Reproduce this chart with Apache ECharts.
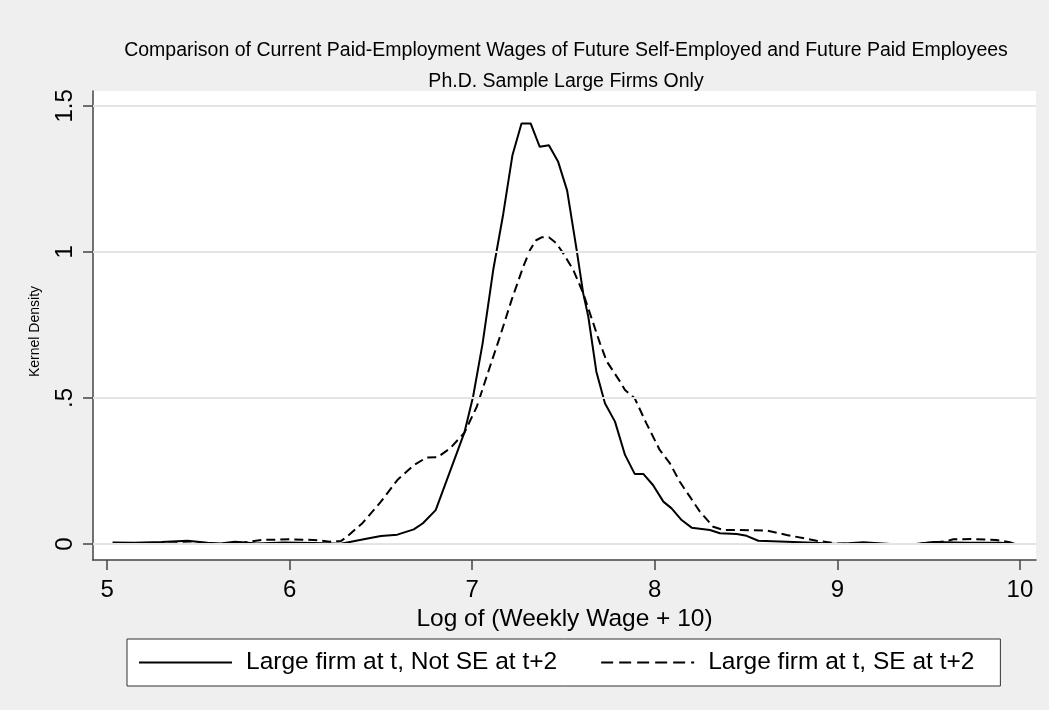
<!DOCTYPE html>
<html>
<head>
<meta charset="utf-8">
<script src="https://cdn.jsdelivr.net/npm/echarts@6/dist/echarts.min.js"></script>
<style>
html,body{margin:0;padding:0;background:#efefef;}
#chart{width:1049px;height:710px;}
</style>
</head>
<body>
<div id="chart"></div>
<script>
// ---- data ----
var titleLines = ['Comparison of Current Paid-Employment Wages of Future Self-Employed and Future Paid Employees', 'Ph.D. Sample Large Firms Only'];
var seriesNames = ['Large firm at t, Not SE at t+2', 'Large firm at t, SE at t+2'];
var xAxisTitle = 'Log of (Weekly Wage + 10)';
var yAxisTitle = 'Kernel Density';
var xTickValues = [5, 6, 7, 8, 9, 10];
var xTickLabels = ['5', '6', '7', '8', '9', '10'];
var yTickValues = [0, 0.5, 1, 1.5];
var yTickLabels = ['0', '.5', '1', '1.5'];

var notSeX = [5.03,5.15,5.30,5.44,5.55,5.62,5.70,5.82,5.97,6.13,6.28,6.42,6.50,6.59,6.68,6.73,6.80,6.957,7.005,7.057,7.115,7.17,7.22,7.27,7.32,7.37,7.42,7.47,7.52,7.572,7.608,7.636,7.68,7.727,7.782,7.837,7.89,7.937,7.99,8.047,8.092,8.147,8.202,8.302,8.357,8.449,8.503,8.567,8.722,8.868,9.0,9.142,9.29,9.43,9.525,9.708,9.89,9.97];
var notSeY = [0.005,0.004,0.007,0.011,0.004,0.002,0.008,0.002,0.005,0.003,0.001,0.018,0.027,0.032,0.050,0.071,0.116,0.381,0.505,0.687,0.938,1.13,1.33,1.44,1.44,1.36,1.365,1.31,1.21,1.007,0.858,0.778,0.59,0.482,0.419,0.305,0.24,0.24,0.202,0.145,0.122,0.082,0.056,0.048,0.037,0.034,0.028,0.011,0.008,0.004,0.0,0.006,0.0,0.0,0.007,0.004,0.004,0.002];

var seX = [5.03,5.20,5.40,5.60,5.75,5.85,6.00,6.13,6.22,6.28,6.31,6.40,6.50,6.59,6.68,6.75,6.81,6.88,6.957,7.025,7.097,7.152,7.216,7.28,7.317,7.35,7.38,7.42,7.46,7.499,7.554,7.608,7.663,7.70,7.737,7.81,7.837,7.89,7.954,8.027,8.083,8.137,8.192,8.247,8.32,8.375,8.466,8.613,8.722,8.886,9.0,9.16,9.43,9.525,9.6,9.635,9.74,9.87,9.945,9.97];
var seY = [0.0,0.0,0.003,0.0,0.005,0.014,0.016,0.014,0.008,0.010,0.023,0.072,0.145,0.219,0.27,0.296,0.297,0.328,0.381,0.47,0.607,0.71,0.836,0.95,1.007,1.04,1.05,1.05,1.03,0.995,0.938,0.858,0.756,0.687,0.625,0.556,0.527,0.499,0.413,0.322,0.276,0.213,0.162,0.111,0.059,0.048,0.048,0.046,0.031,0.011,0.002,0.0,0.0,0.005,0.01,0.016,0.017,0.014,0.006,0.0];

function zip(xs, ys){ return xs.map(function(x,i){ return [x, ys[i]]; }); }

var FONT = 'Liberation Sans, Arial, sans-serif';
var chart = echarts.init(document.getElementById('chart'), null, {renderer:'canvas'});
chart.setOption({
  backgroundColor: '#efefef',
  animation: false,
  title: {
    text: titleLines.join('\n'),
    left: 561,
    top: 30,
    textAlign: 'center',
    textStyle: {fontFamily: FONT, fontSize: 19.5, fontWeight: 'normal', color: '#000', lineHeight: 31}
  },
  grid: {left: 93, right: 13, top: 91, bottom: 150, show: true, backgroundColor: '#ffffff', borderWidth: 0, containLabel: false},
  legend: {
    data: [
      {name: seriesNames[0]},
      {name: seriesNames[1], lineStyle: {type: [12, 6]}}
    ],
    left: 127, top: 639,
    padding: [11, 26, 11, 11],
    itemGap: 43,
    itemWidth: 93, itemHeight: 14,
    backgroundColor: '#ffffff',
    borderColor: '#333', borderWidth: 1, borderRadius: 0,
    itemStyle: {opacity: 0},
    textStyle: {fontFamily: FONT, fontSize: 24.5, color: '#000', padding: [0,0,0,9]}
  },
  xAxis: {
    type: 'value', min: 4.923, max: 10.088,
    name: xAxisTitle, nameLocation: 'middle', nameGap: 43,
    nameTextStyle: {fontFamily: FONT, fontSize: 24.5, color: '#000'},
    axisLine: {show: true, onZero: false, lineStyle: {color: '#444', width: 1.5}},
    axisTick: {show: true, length: 10, customValues: xTickValues, lineStyle: {color: '#444', width: 1.5}},
    axisLabel: {show: true, customValues: xTickValues, margin: 18, fontFamily: FONT, fontSize: 24, color: '#000',
      formatter: function(v){ var i = xTickValues.indexOf(v); return i >= 0 ? xTickLabels[i] : ''; }},
    splitLine: {show: false}
  },
  yAxis: {
    type: 'value', min: -0.0548, max: 1.551,
    name: yAxisTitle, nameLocation: 'middle', nameGap: 51, nameRotate: 90,
    nameTextStyle: {fontFamily: FONT, fontSize: 14, color: '#000', padding: [0, 12, 0, 0]},
    axisLine: {show: true, onZero: false, lineStyle: {color: '#444', width: 1.5}},
    axisTick: {show: true, length: 10, customValues: yTickValues, lineStyle: {color: '#444', width: 1.5}},
    axisLabel: {show: true, customValues: yTickValues, rotate: 90, margin: 16, fontFamily: FONT, fontSize: 24, color: '#000',
      formatter: function(v){ var i = yTickValues.indexOf(v); return i >= 0 ? yTickLabels[i] : ''; }},
    splitLine: {show: false}
  },
  series: [
    {
      name: '_grid', type: 'line', data: [], z: 0, silent: true,
      markLine: {
        silent: true, symbol: ['none','none'], label: {show: false},
        lineStyle: {type: 'solid', color: '#e4e4e4', width: 2},
        data: yTickValues.map(function(v){ return {yAxis: v}; })
      }
    },
    {
      name: seriesNames[0], type: 'line', z: 3,
      data: zip(notSeX, notSeY),
      showSymbol: false, symbol: 'none', smooth: false,
      lineStyle: {color: '#000', width: 2, type: 'solid'},
      itemStyle: {color: '#000'}
    },
    {
      name: seriesNames[1], type: 'line', z: 3,
      data: zip(seX, seY),
      showSymbol: false, symbol: 'none', smooth: false,
      lineStyle: {color: '#000', width: 2, type: [9, 5]},
      itemStyle: {color: '#000'}
    }
  ]
});
</script>
</body>
</html>
